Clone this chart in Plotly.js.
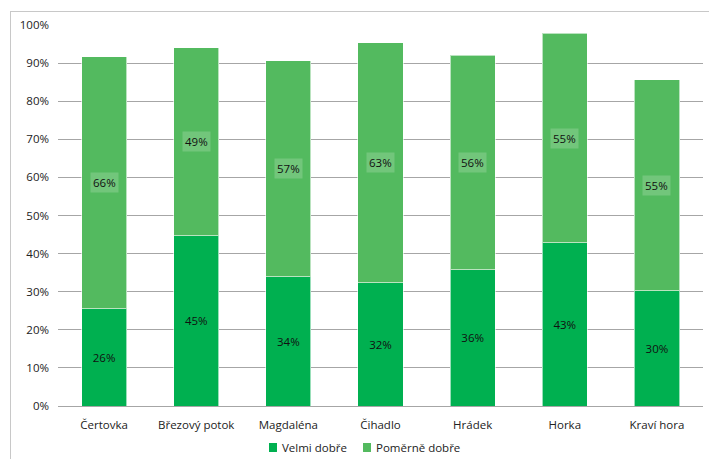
<!DOCTYPE html>
<html><head><meta charset="utf-8">
<script src="https://cdn.plot.ly/plotly-3.0.1.min.js"></script>
<style>
html,body{margin:0;padding:0;overflow:hidden;background:#fff;}
#frame{position:absolute;left:10px;top:11px;width:720px;height:470px;border:1px solid #c8c8c8;pointer-events:none;}
#chart{position:absolute;left:0;top:0;width:709px;height:459px;}
</style></head><body>
<div id="chart"></div><div id="frame"></div>
<script>
const categories = ["Čertovka","Březový potok","Magdaléna","Čihadlo","Hrádek","Horka","Kraví hora"];
const velmiDobre = [25.5, 44.7, 33.9, 32.3, 35.7, 42.8, 30.3];
const pomerneDobre = [66.2, 49.3, 56.7, 63.0, 56.4, 55.0, 55.3];
const seriesNames = ["Velmi dobře", "Poměrně dobře"];
const yTicks = [0,10,20,30,40,50,60,70,80,90,100];

const colors = ["#00B050", "#53BA5F"];
const font = {family: "'Open Sans', Lato, sans-serif", size: 11.5, color: "#222"};
const traces = [
  {type:"bar", name:seriesNames[0], x:categories, y:velmiDobre,
   marker:{color:colors[0], line:{color:"rgba(255,255,255,0.6)", width:1}},
   text: velmiDobre.map(v => Math.round(v) + "%"), textposition:"inside",
   insidetextanchor:"middle", textfont:{...font, color:"#111"}, hoverinfo:"none"},
  {type:"bar", name:seriesNames[1], x:categories, y:pomerneDobre,
   marker:{color:colors[1], line:{color:"rgba(255,255,255,0.6)", width:1}}, hoverinfo:"none"}
];
const annotations = categories.map((c,i) => ({
  x:c, y: velmiDobre[i] + pomerneDobre[i]/2, xref:"x", yref:"y",
  text: Math.round(pomerneDobre[i]) + "%", showarrow:false,
  bgcolor:"rgba(255,255,255,0.18)", borderpad:2, font:{...font, color:"#111"}
}));
// custom legend (Excel-like: small square close to text)
const legX = [[0.3271, 0.3395, 0.3442], [0.4729, 0.4853, 0.4899]];
const shapes = [];
seriesNames.forEach((n, i) => {
  shapes.push({type:"rect", xref:"paper", yref:"paper", x0:legX[i][0], x1:legX[i][1],
               y0:-0.1207, y1:-0.0971, fillcolor:colors[i], line:{width:0}});
  annotations.push({xref:"paper", yref:"paper", x:legX[i][2], y:-0.1102, xanchor:"left",
                    yanchor:"middle", text:n, showarrow:false, font:{...font}});
});
const layout = {
  width:709, height:459, barmode:"stack", bargap:0.51,
  margin:{l:58, r:6, t:25, b:53, autoexpand:false},
  paper_bgcolor:"#fff", plot_bgcolor:"#fff", font: font,
  showlegend:false,
  xaxis:{tickfont:font, showgrid:false, zeroline:false, showline:false, ticks:"", ticklabelstandoff:10, fixedrange:true},
  yaxis:{range:[0,100], tickvals:yTicks, ticktext:yTicks.map(v=>v+"%"), tickfont:font,
         showgrid:true, gridcolor:"#a6a6a6", gridwidth:1, zeroline:true, zerolinecolor:"#a6a6a6",
         showline:false, ticks:"", ticklabelstandoff:8, fixedrange:true},
  annotations: annotations, shapes: shapes
};
Plotly.newPlot("chart", traces, layout, {displayModeBar:false, staticPlot:true});
</script></body></html>
